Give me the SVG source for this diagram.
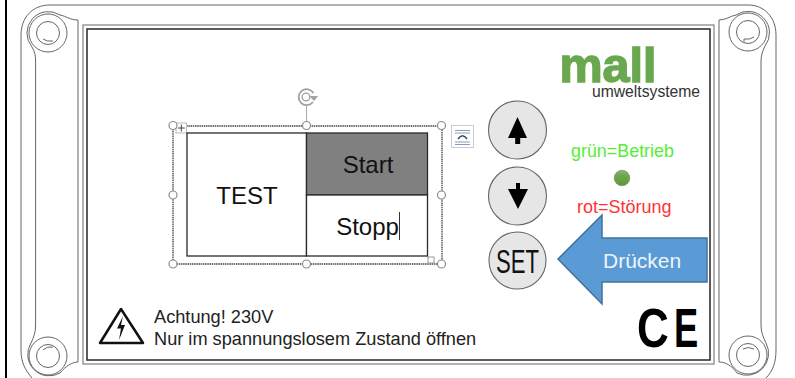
<svg xmlns="http://www.w3.org/2000/svg" width="795" height="378" viewBox="0 0 795 378">
<style>
text{font-family:"Liberation Sans",Arial,sans-serif}
.h{fill:none;stroke:#666;stroke-width:1}
.d{fill:none;stroke:#333;stroke-width:1.6}
.sel{fill:#fff;stroke:#8c8c8c;stroke-width:1.2}
.btn{fill:#e6e6e6;stroke:#666;stroke-width:1.1}
.cell{stroke:#2a2a2a;stroke-width:1.3}
.tt{font-size:24px;text-anchor:middle;fill:#111}
</style>
<defs>
<linearGradient id="led" x1="0" y1="0" x2="0" y2="1"><stop offset="0" stop-color="#8fae80"/><stop offset=".35" stop-color="#6ea84a"/><stop offset="1" stop-color="#5c9a3a"/></linearGradient>
</defs>
<rect width="795" height="378" fill="#fff"/>
<rect id="left-bar" x="5" y="0" width="2" height="378" fill="#000"/>
<g id="housing">
<path class="h" d="M32,378C25,370 21,362 21,350V35C21,18 32,5 50,5H748C765,5 776,18 776,35V350C776,362 773,371 766,378"/>
<path class="h" d="M32,47A21.500,21.500 0 0 1 60,15C66,16 70,20 78,20V362C72,362 66,366 60,373"/>
<path class="h" d="M32,47C35,52 35.600,56 35.600,62V325C35.600,332 34,337 31,343"/>
<path class="h" d="M60,373A21.500,21.500 0 0 1 31,343"/>
<path class="h" d="M765,46A21.500,21.500 0 0 0 736,15C730,16 726,20 719,20V362C726,362 732,366 737,373"/>
<path class="h" d="M765,46C762,52 761,56 761,62V325C761,332 763,337 766,343"/>
<path class="h" d="M737,373A21.900,21.900 0 0 0 766,343"/>
<rect class="h" x="83" y="25" width="631" height="339"/>
<rect class="d" x="87" y="29" width="623" height="331"/>
</g>
<g id="screws">
<g class="h"><circle cx="48" cy="33" r="19"/><circle cx="48" cy="33" r="11.500"/><path d="M43,39Q47,42 53,41"/></g>
<g class="h"><circle cx="748" cy="32" r="19"/><circle cx="748" cy="32" r="11.500"/><path d="M744,42V39Q750,40 754,37"/></g>
<g class="h"><circle cx="48" cy="356" r="19"/><circle cx="48" cy="356" r="11.500"/><path d="M43,350Q47,346 53,347"/></g>
<g class="h"><circle cx="748" cy="355" r="19"/><circle cx="748" cy="355" r="11.500"/><path d="M743,349Q748,346 754,349"/></g>
</g>
<g id="logo">
<text x="559.500" y="82" font-size="49" font-weight="700" fill="#6aa84f" stroke="#6aa84f" stroke-width="1.500" textLength="97" lengthAdjust="spacingAndGlyphs">mall</text>
<text x="592" y="97" font-size="15.700" fill="#333">umweltsysteme</text>
</g>
<g id="selection">
<line x1="306.500" y1="105" x2="306.500" y2="126" stroke="#aaa"/>
<path d="M313.500,93A8,8 0 1 0 313,102" fill="none" stroke="#a0a0a0" stroke-width="1.800"/>
<circle cx="306" cy="97" r="3.800" fill="none" stroke="#a0a0a0" stroke-width="1.300"/>
<path d="M309.500,96H318L314,101Z" fill="#a0a0a0"/>
<rect x="173" y="126" width="269" height="138" fill="none" stroke="#444" stroke-width="1.300" stroke-dasharray="1.500 .7"/>
<rect x="176" y="123" width="10.500" height="10" fill="#fff" stroke="#bbb"/>
<path d="M181.300,124.500V131.500M177.800,128H184.800" stroke="#444" stroke-width="1"/>
<rect x="428" y="257" width="6" height="6" fill="#fff" stroke="#999"/>
<circle class="sel" cx="173" cy="125.500" r="4"/><circle class="sel" cx="306.500" cy="125.500" r="4"/><circle class="sel" cx="441.500" cy="125.500" r="4"/>
<circle class="sel" cx="173" cy="195" r="4"/><circle class="sel" cx="441.500" cy="195" r="4"/>
<circle class="sel" cx="173" cy="264" r="4"/><circle class="sel" cx="306.500" cy="264" r="4"/><circle class="sel" cx="441.500" cy="264" r="4"/>
<rect x="451.500" y="125.500" width="22" height="22" fill="#fff" stroke="#ccc"/>
<path d="M455,130.500H470M455,133H470M455,142H470M455,144.500H470" stroke="#7f9fc8" stroke-width="1"/>
<path d="M458,139Q462.500,132.500 467,139" fill="none" stroke="#444" stroke-width="1.500"/>
</g>
<g id="table">
<rect class="cell" x="187" y="133" width="119.500" height="123" fill="#fff"/>
<rect class="cell" x="306.500" y="133" width="121" height="62" fill="#808080"/>
<rect class="cell" x="306.500" y="195" width="121" height="61" fill="#fff"/>
<text class="tt" x="247" y="204">TEST</text>
<text class="tt" x="368" y="173">Start</text>
<text class="tt" x="367.500" y="235">Stopp</text>
<line x1="399.500" y1="212" x2="399.500" y2="240" stroke="#333"/>
</g>
<g id="btn-up">
<circle class="btn" cx="517.500" cy="130" r="29"/>
<path d="M517.500,117L527,138H520.200V144H515.200V138H508Z" fill="#000"/>
</g>
<g id="btn-down">
<circle class="btn" cx="517.500" cy="196" r="29"/>
<path d="M516,183H520V189H528L518,209L508,189H516Z" fill="#000"/>
</g>
<g id="btn-set">
<circle class="btn" cx="517.500" cy="260.500" r="28.500"/>
<text x="496" y="273" font-size="33" textLength="43" lengthAdjust="spacingAndGlyphs" fill="#111">SET</text>
</g>
<g id="status">
<text x="571" y="157" font-size="17.900" fill="#55ee33">grün=Betrieb</text>
<circle cx="622" cy="178" r="7.800" fill="url(#led)" stroke="#8a7a70" stroke-width=".6"/>
<text x="577" y="213" font-size="18" fill="#ff3333">rot=Störung</text>
</g>
<g id="press-arrow">
<path d="M558,259L602,215V238H707V282H602V304Z" fill="#5b9bd5" stroke="#41719c" stroke-width="1.500"/>
<text x="603" y="268" font-size="21" fill="#eef4fb">Drücken</text>
</g>
<g id="warning">
<path d="M121,309L100,343H143Z" fill="#fff" stroke="#111" stroke-width="2.500" stroke-linejoin="round"/>
<path d="M123,316L117,328.500L121,328.500L119,340L125,325L121,325Z" fill="#111"/>
<text x="154" y="323" font-size="18.200" fill="#222">Achtung! 230V</text>
<text x="154" y="345" font-size="18.200" fill="#222">Nur im spannungslosem Zustand öffnen</text>
</g>
<g id="ce-mark">
<text transform="translate(637,347) scale(.8,1)" font-size="55" font-weight="700" fill="#000">C</text>
<text transform="translate(674,347) scale(.66,1)" font-size="55" font-weight="700" fill="#000">E</text>
</g>
</svg>
